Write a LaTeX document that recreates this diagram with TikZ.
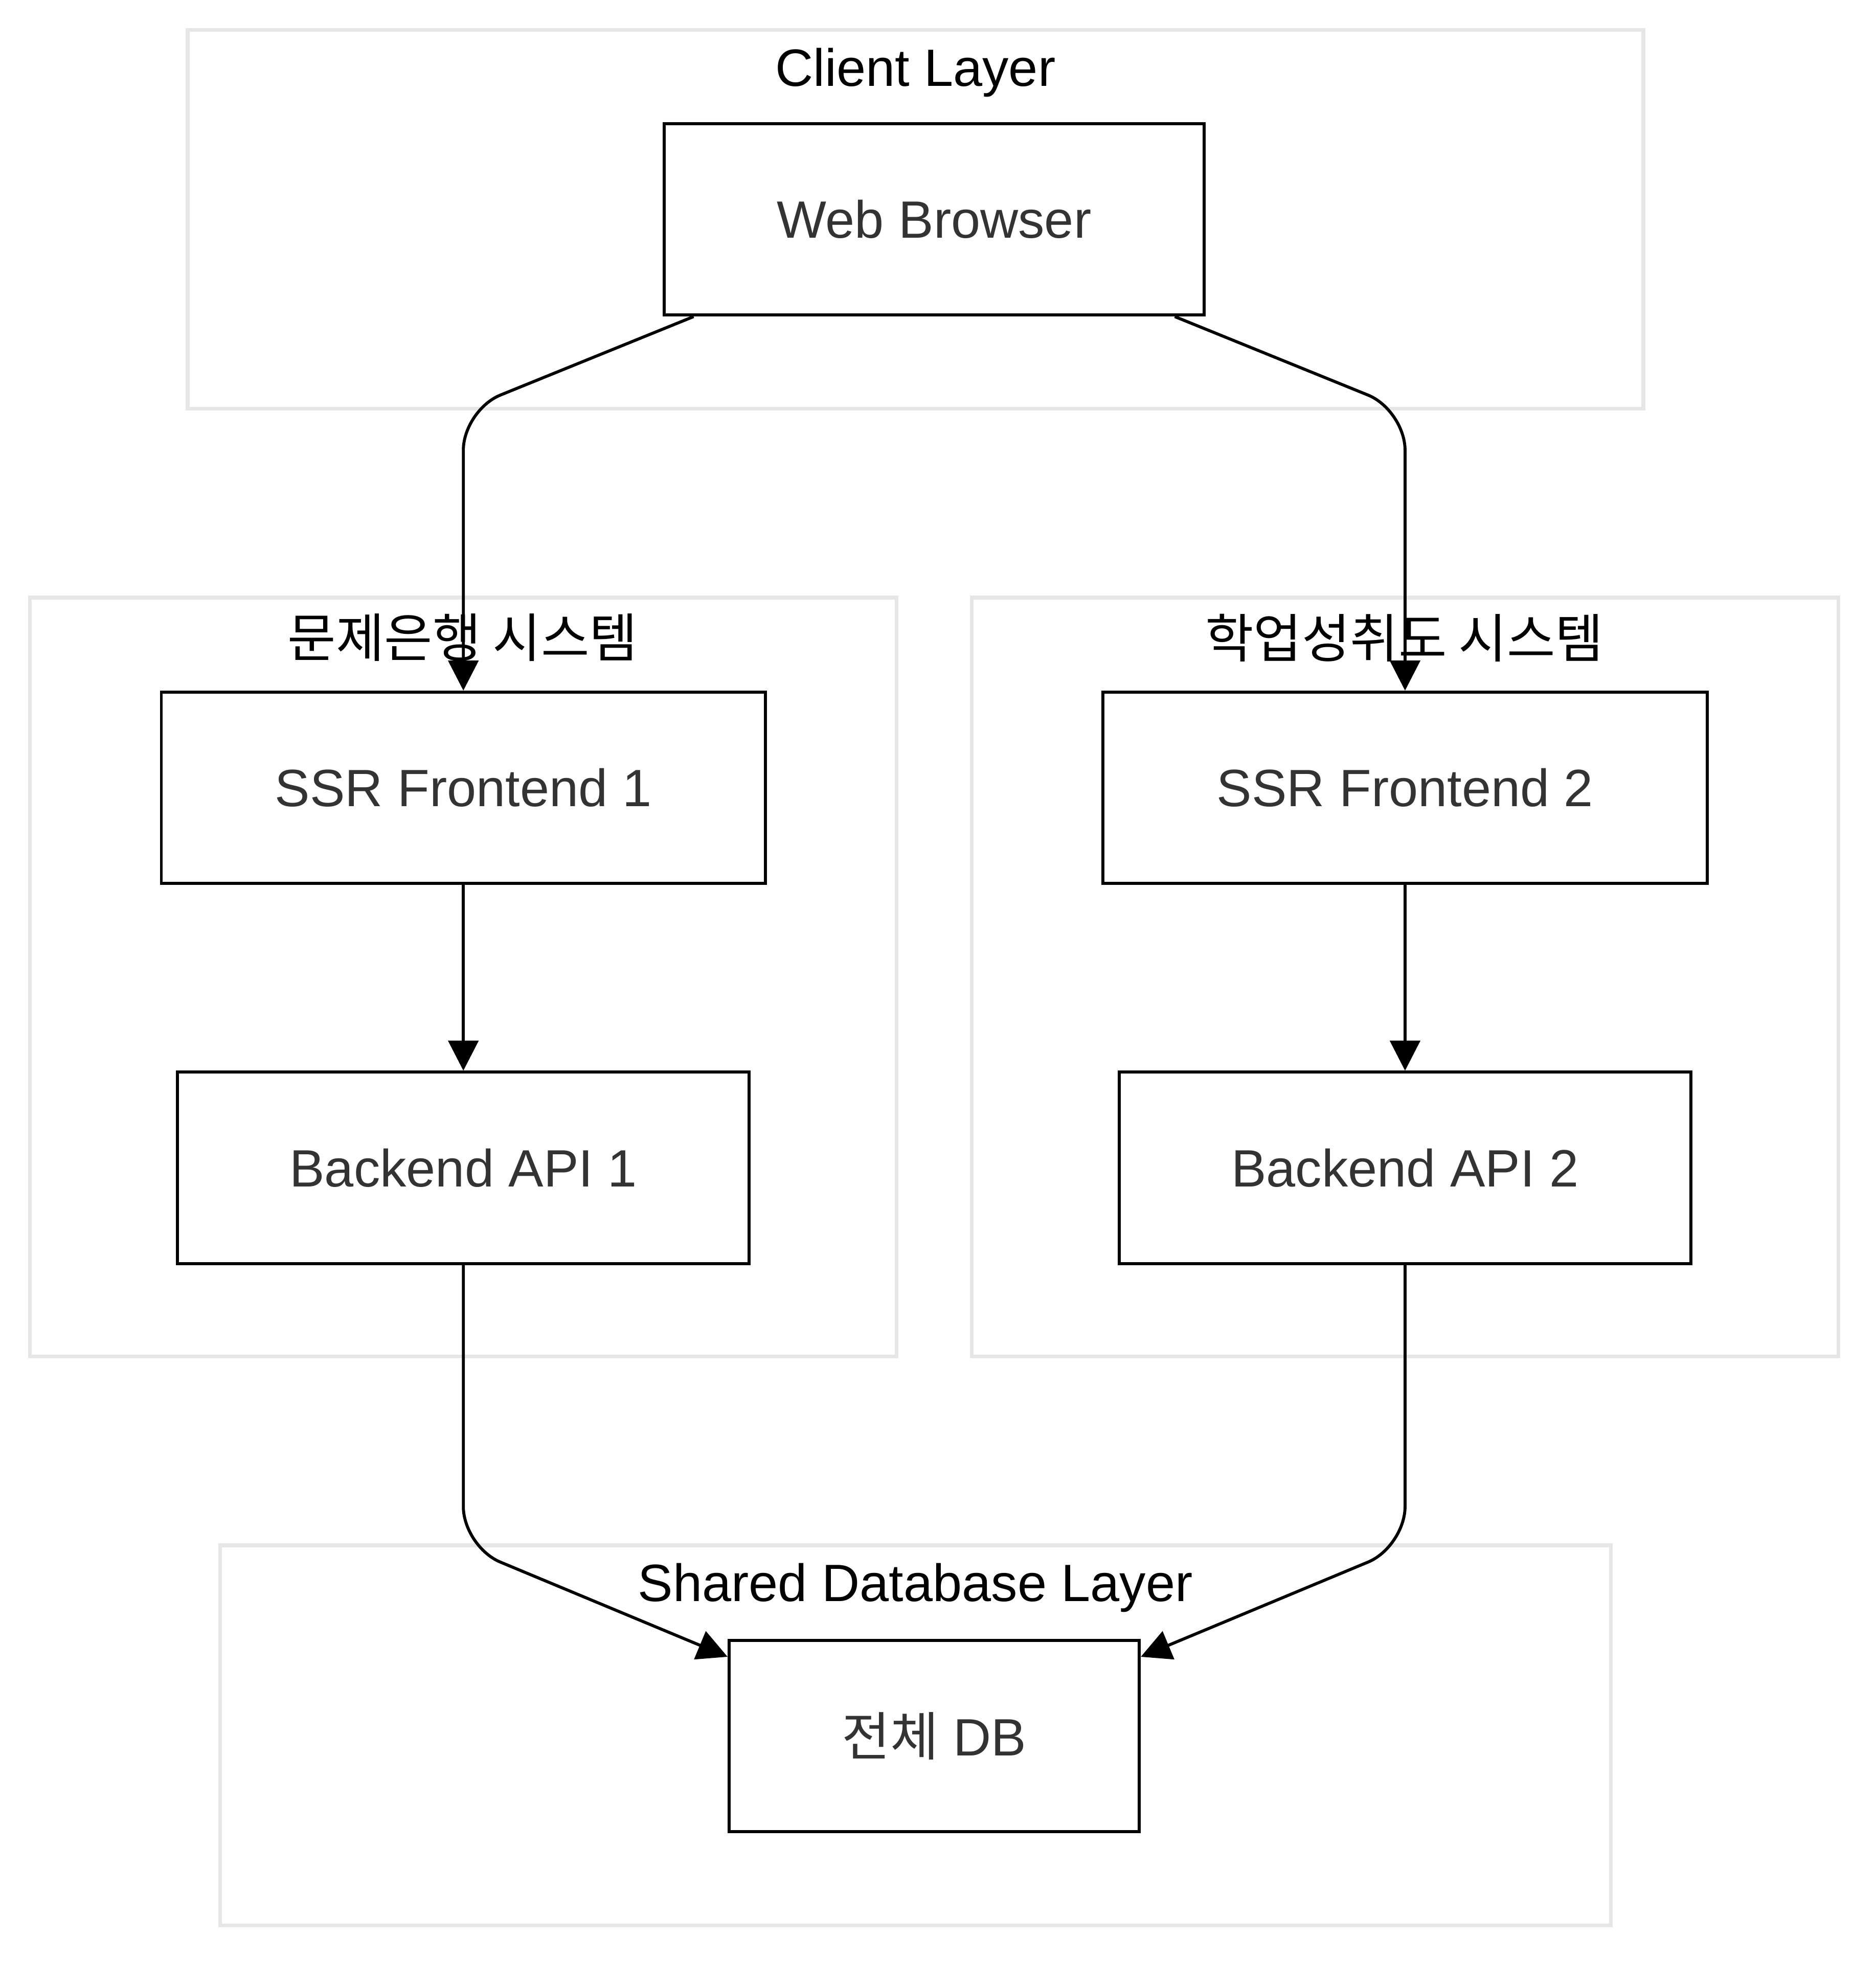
\documentclass[tikz,border=0pt]{standalone}
\usepackage{fontspec}
\setmainfont{Liberation Sans}
\newfontfamily\kr{Noto Sans CJK KR}[Scale=1.0]
\usetikzlibrary{arrows.meta}
\definecolor{bordo}{HTML}{E6E6E6}
\definecolor{testo}{HTML}{333333}
\tikzset{
  nodo/.style={draw=black, line width=1.2pt, fill=white, inner sep=0pt, text=testo,
    font=\fontsize{21}{25}\selectfont, minimum height=76.5pt},
  gruppo/.style={draw=bordo, line width=1.5pt},
  titolo/.style={font=\fontsize{21}{25}\selectfont, text=black},
  freccia/.style={line width=1.2pt, -{Triangle[length=12pt,width=12pt]}, rounded corners=16pt}
}
\begin{document}
\begin{tikzpicture}[x=0.5pt,y=-0.5pt]
        \useasboundingbox (0,0) rectangle (1500,1570);
        %gruppi
        \draw[gruppo] (150,24) rectangle (1314,327);
        \draw[gruppo] (24,478) rectangle (717,1085);
        \draw[gruppo] (777,478) rectangle (1470,1085);
        \draw[gruppo] (176,1236) rectangle (1288,1540);
        % titoli dei gruppi
        \node[titolo] (tclient) at (732,58) {Client Layer};
        \node[titolo] (tbank) at (370,510) {\kr 문제은행 시스템};
        \node[titolo] (tach) at (1123,510) {\kr 학업성취도 시스템};
        \node[titolo] (tshared) at (732,1270) {Shared Database Layer};
        % nodi
        \node[nodo, minimum width=216pt] (wb) at (747,175.5) {Web Browser};
        \node[nodo, minimum width=241.5pt] (fe1) at (370.5,630) {SSR Frontend 1};
        \node[nodo, minimum width=241.5pt] (fe2) at (1123.5,630) {SSR Frontend 2};
        \node[nodo, minimum width=228.5pt] (be1) at (370.5,934) {Backend API 1};
        \node[nodo, minimum width=228.5pt] (be2) at (1123.5,934) {Backend API 2};
        \node[nodo, minimum width=164pt] (db) at (747,1388.5) {{\kr 전체} DB};
        % angoli delle frecce
        \coordinate (c1) at (370.5,328);
        \coordinate (c2) at (1123.5,328);
        \coordinate (c3) at (370.5,1237);
        \coordinate (c4) at (1123.5,1237);
        % frecce
        \draw[freccia] (wb.202) -- (c1) -- (fe1.north);
        \draw[freccia] (wb.338) -- (c2) -- (fe2.north);
        \draw[freccia] (fe1.south) -- (be1.north);
        \draw[freccia] (fe2.south) -- (be2.north);
        \draw[freccia] (be1.south) -- (c3) -- (db.159);
        \draw[freccia] (be2.south) -- (c4) -- (db.21);
    \end{tikzpicture}
\end{document}
